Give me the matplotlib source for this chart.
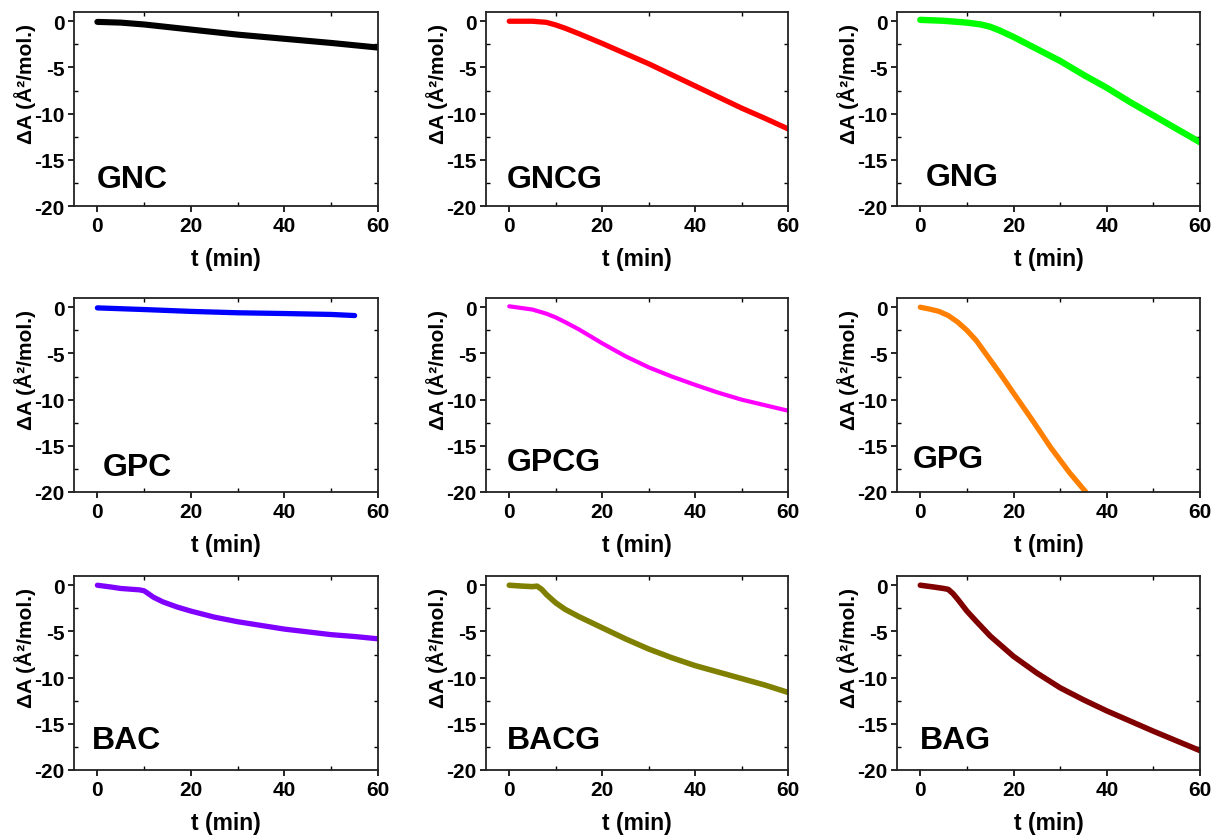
import matplotlib
matplotlib.use("Agg")
import matplotlib.pyplot as plt
from matplotlib.ticker import MultipleLocator

plt.rcParams['font.family'] = ['Liberation Sans', 'DejaVu Sans']
plt.rcParams['font.weight'] = 'bold'
plt.rcParams['axes.unicode_minus'] = False

# --- data (t in min, dA in A^2/mol.) ---
names = ["GNC", "GNCG", "GNG", "GPC", "GPCG", "GPG", "BAC", "BACG", "BAG"]
colors = ["#000000", "#ff0000", "#00ff00", "#0000ff", "#ff00ff", "#ff8000",
          "#8000ff", "#808000", "#800000"]

gnc_t = [0, 5, 10, 20, 30, 40, 50, 60]
gnc_y = [-0.07, -0.15, -0.35, -0.9, -1.45, -1.9, -2.35, -2.85]

gncg_t = [0, 5, 8, 10, 12, 15, 20, 25, 30, 35, 40, 45, 50, 55, 60]
gncg_y = [0, 0, -0.12, -0.4, -0.75, -1.35, -2.4, -3.5, -4.6, -5.8, -7.0, -8.2, -9.4, -10.5, -11.65]

gng_t = [0, 5, 10, 13, 15, 17, 20, 25, 30, 35, 40, 45, 50, 55, 60]
gng_y = [0.15, 0.05, -0.15, -0.35, -0.6, -1.0, -1.7, -3.0, -4.3, -5.8, -7.2, -8.75, -10.2, -11.65, -13.1]

gpc_t = [0, 10, 20, 30, 40, 50, 55]
gpc_y = [-0.07, -0.25, -0.45, -0.6, -0.68, -0.78, -0.9]

gpcg_t = [0, 5, 8, 10, 12, 15, 20, 25, 30, 35, 40, 45, 50, 55, 60]
gpcg_y = [0.1, -0.25, -0.7, -1.1, -1.6, -2.4, -3.9, -5.3, -6.5, -7.5, -8.4, -9.25, -10.0, -10.6, -11.2]

gpg_t = [0, 2, 4, 6, 8, 10, 12, 14, 17, 20, 24, 28, 32, 35.5]
gpg_y = [0, -0.2, -0.45, -0.9, -1.6, -2.5, -3.6, -5.0, -7.1, -9.3, -12.2, -15.2, -17.9, -20]

bac_t = [0, 3, 5, 9, 10, 11, 12, 14, 17, 20, 25, 30, 35, 40, 45, 50, 55, 60]
bac_y = [0, -0.2, -0.35, -0.5, -0.6, -0.95, -1.3, -1.8, -2.35, -2.8, -3.45, -3.95,
         -4.35, -4.75, -5.05, -5.35, -5.55, -5.8]

bacg_t = [0, 3, 5, 6, 7, 8, 10, 12, 15, 20, 25, 30, 35, 40, 45, 50, 55, 60]
bacg_y = [0, -0.1, -0.15, -0.1, -0.45, -1.0, -1.9, -2.6, -3.4, -4.6, -5.8, -6.9,
          -7.85, -8.7, -9.4, -10.1, -10.8, -11.6]

bag_t = [0, 3, 5, 6, 7, 8, 10, 12, 15, 20, 25, 30, 35, 40, 45, 50, 55, 60]
bag_y = [0, -0.2, -0.35, -0.45, -0.9, -1.5, -2.8, -3.9, -5.5, -7.7, -9.5, -11.1,
         -12.4, -13.6, -14.7, -15.8, -16.85, -17.9]

series_t = [gnc_t, gncg_t, gng_t, gpc_t, gpcg_t, gpg_t, bac_t, bacg_t, bag_t]
series_y = [gnc_y, gncg_y, gng_y, gpc_y, gpcg_y, gpg_y, bac_y, bacg_y, bag_y]

xticks = [0, 20, 40, 60]
yticks = [0, -5, -10, -15, -20]

# --- layout (pixels of a 1213x837 figure) ---
W, H = 1213, 837
col_left = [74, 486, 897]
col_width = [304, 302, 303]
row_top = [13, 299, 577]
ax_height = 194
lw = [4.4, 3.8, 4.6, 3.8, 3.0, 3.8, 3.8, 4.0, 4.0]
label_pos = [(0.075, 0.06), (0.07, 0.06), (0.096, 0.07),
             (0.095, 0.05), (0.07, 0.077), (0.053, 0.093),
             (0.058, 0.077), (0.07, 0.077), (0.076, 0.077)]

fig = plt.figure(figsize=(W / 100, H / 100), dpi=100)

for i in range(9):
    r, c = divmod(i, 3)
    ax = fig.add_axes([col_left[c] / W, 1 - (row_top[r] + ax_height) / H,
                       col_width[c] / W, ax_height / H])
    ax.plot(series_t[i], series_y[i], color=colors[i], lw=lw[i],
            solid_capstyle='round', solid_joinstyle='round')
    ax.set_xlim(-5, 60)
    ax.set_ylim(-20, 1)
    ax.set_xticks(xticks)
    ax.set_yticks(yticks)
    ax.xaxis.set_minor_locator(MultipleLocator(10))
    ax.yaxis.set_minor_locator(MultipleLocator(2.5))
    ax.tick_params(which='major', direction='out', length=4, width=1.2,
                   labelsize=15, pad=3)
    ax.tick_params(which='minor', direction='in', length=3, width=1.0,
                   top=True, right=True)
    ax.tick_params(which='major', top=False, right=False)
    for s in ax.spines.values():
        s.set_linewidth(1.3)
        s.set_color('#222222')
    for lab in ax.get_xticklabels() + ax.get_yticklabels():
        lab.set_fontweight('bold')
    ax.set_xlabel("t (min)", fontsize=16.5, fontweight='bold', labelpad=9)
    ax.set_ylabel("\u0394A (\u00c5\u00b2/mol.)", fontsize=15, fontweight='bold')
    ax.yaxis.set_label_coords(-0.125, 0.635)
    lx, ly = label_pos[i]
    ax.text(lx, ly, names[i], transform=ax.transAxes, fontsize=23,
            fontweight='bold', ha='left', va='bottom')

fig.savefig("out.png", dpi=100)
